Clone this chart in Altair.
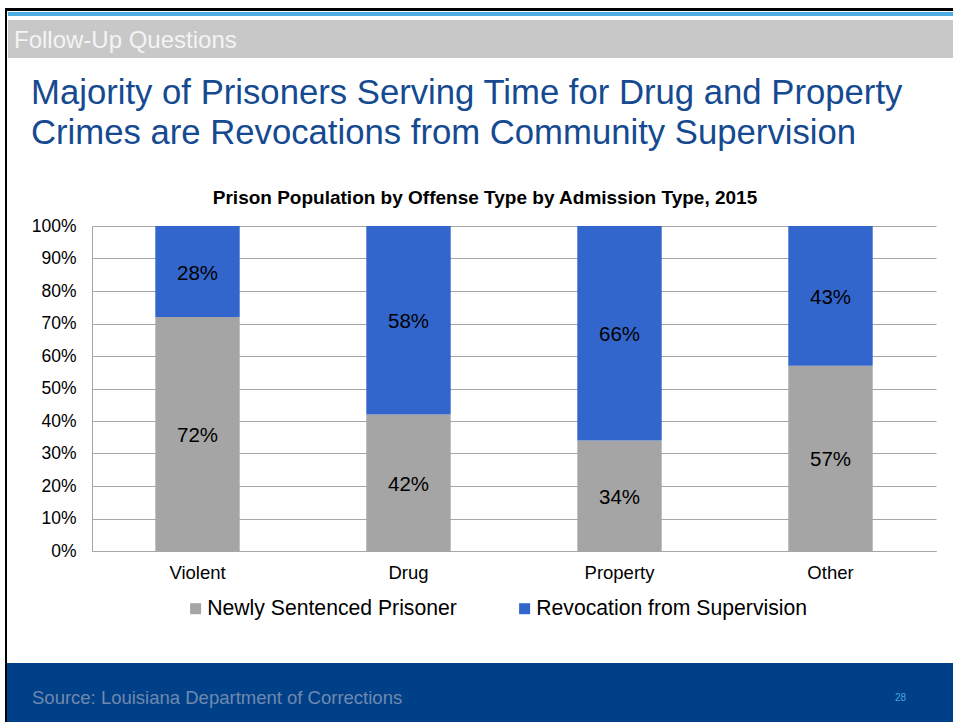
import altair as alt
import pandas as pd

# ---- data ----
categories = ["Violent", "Drug", "Property", "Other"]
series = ["Newly Sentenced Prisoner", "Revocation from Supervision"]
newly = [72, 42, 34, 57]
revocation = [28, 58, 66, 43]
y_ticks = [0, 10, 20, 30, 40, 50, 60, 70, 80, 90, 100]
colors = ["#A5A5A5", "#3366CC"]

header_text = "Follow-Up Questions"
title_lines = ["Majority of Prisoners Serving Time for Drug and Property",
               "Crimes are Revocations from Community Supervision"]
chart_title = "Prison Population by Offense Type by Admission Type, 2015"
source_text = "Source: Louisiana Department of Corrections"
page_no = "28"

rows = []
for i, c in enumerate(categories):
    rows.append({"cat": c, "series": series[0], "value": newly[i], "order": 0})
    rows.append({"cat": c, "series": series[1], "value": revocation[i], "order": 1})
df = pd.DataFrame(rows)

FONT = "Liberation Sans"
L, T = 92, 226          # plot origin in page pixels
W, H = 844, 325         # plot size
PW, PH = 953, 722       # page size

base = alt.Chart(df).transform_stack(
    stack="value", groupby=["cat"], as_=["v0", "v1"],
    sort=[alt.SortField("order", order="ascending")]
).transform_calculate(
    mid="(datum.v0 + datum.v1) / 2",
    label="datum.value + '%'"
)

xscale = alt.Scale(paddingInner=0.6, paddingOuter=0.3)
xaxis = alt.Axis(labelAngle=0, ticks=False, domain=True, domainColor="#A6A6A6",
                 labelPadding=12, labelFontSize=18.5, labelFont=FONT, labelColor="#000000",
                 grid=False)
yscale = alt.Scale(domain=[0, 100], nice=False)
yaxis = alt.Axis(values=y_ticks, labelExpr="datum.value + '%'", ticks=False,
                 domain=True, domainColor="#A6A6A6", grid=True, gridColor="#A6A6A6",
                 gridWidth=1, labelPadding=16, labelFontSize=17.5, labelFont=FONT,
                 labelColor="#000000", labelOverlap=False, labelBound=False)

bars = base.mark_bar().encode(
    x=alt.X("cat:N", sort=categories, title=None, scale=xscale, axis=xaxis),
    y=alt.Y("v0:Q", title=None, scale=yscale, axis=yaxis),
    y2="v1:Q",
    color=alt.Color("series:N", scale=alt.Scale(domain=series, range=colors),
                    legend=alt.Legend(title=None, orient="none", legendX=93, legendY=372,
                                      direction="horizontal", symbolType="square",
                                      symbolSize=121, symbolStrokeWidth=0, labelFontSize=21.2,
                                      labelFont=FONT, labelColor="#000000", labelOffset=1,
                                      labelLimit=600, columnPadding=57)),
    order=alt.Order("order:Q")
)

labels = base.mark_text(fontSize=20.5, font=FONT, color="#000000", dy=2).encode(
    x=alt.X("cat:N", sort=categories, title=None, scale=xscale, axis=xaxis),
    y=alt.Y("mid:Q", title=None, scale=yscale, axis=yaxis),
    text="label:N"
)

one = pd.DataFrame({"d": [0]})


def rect(x0, x1, y0, y1, color):
    return alt.Chart(one).mark_rect(color=color, strokeWidth=0).encode(
        x=alt.value(x0 - L), x2=alt.value(x1 - L),
        y=alt.value(y0 - T), y2=alt.value(y1 - T))


def text(s, x, y, size, color, align="left", weight="normal"):
    return alt.Chart(one).mark_text(align=align, baseline="alphabetic", fontSize=size,
                                    font=FONT, color=color, fontWeight=weight).encode(
        x=alt.value(x - L), y=alt.value(y - T), text=alt.value(s))


deco = [
    rect(5, PW, 8, 11, "#000000"),
    rect(8, PW, 12, 16, "#4FACE2"),
    rect(8, PW, 20, 58, "#C8C8C8"),
    rect(5, 7, 8, PH, "#000000"),
    rect(7, PW, 663, PH, "#004088"),
    text(header_text, 14, 48, 24, "#F4F4F4"),
    text(title_lines[0], 31, 104, 34.7, "#154A91"),
    text(title_lines[1], 31, 144, 34.7, "#154A91"),
    text(chart_title, 485, 204, 19, "#000000", align="center", weight="bold"),
    text(source_text, 32, 704, 18.5, "#7088AE"),
    text(page_no, 895, 701, 10, "#4BA3E3"),
]

chart = alt.layer(*deco, bars, labels).properties(
    width=W, height=H,
    padding={"left": L, "top": T, "right": PW - L - W, "bottom": PH - T - H},
    autosize=alt.AutoSizeParams(type="none"),
    background="#FFFFFF"
).configure_view(strokeWidth=0)

chart.save("out.html", embed_options={"renderer": "svg", "actions": False})
